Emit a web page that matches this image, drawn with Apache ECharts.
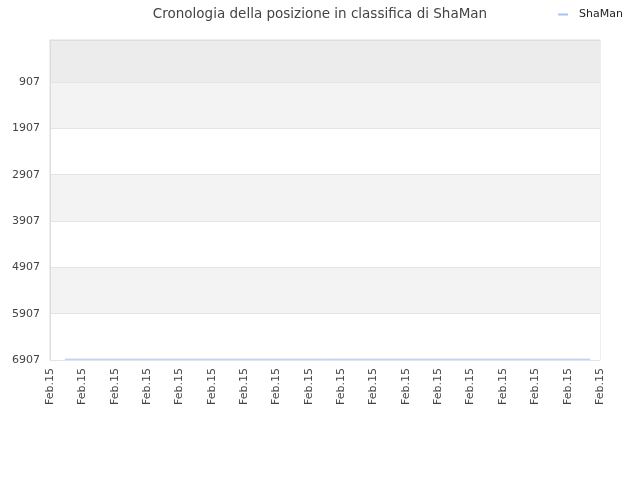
<!DOCTYPE html>
<html>
<head>
<meta charset="utf-8">
<script src="https://cdn.jsdelivr.net/npm/echarts@6/dist/echarts.min.js"></script>
<style>
  html, body { margin: 0; padding: 0; background: #fff; }
  #main { width: 640px; height: 480px; }
</style>
</head>
<body>
<div id="main"></div>
<script>
// dati del grafico
var xLabels = ['Feb.15','Feb.15','Feb.15','Feb.15','Feb.15','Feb.15','Feb.15','Feb.15','Feb.15',
               'Feb.15','Feb.15','Feb.15','Feb.15','Feb.15','Feb.15','Feb.15','Feb.15','Feb.15'];
var days = [0.46, 16.7];           // posizione nel tempo (giorni dall'inizio)
var posizioni = [6890, 6890];      // posizione in classifica
var yTicks = [907, 1907, 2907, 3907, 4907, 5907, 6907];

var myChart = echarts.init(document.getElementById('main'));
var option = {
    animation: false,
    textStyle: { fontFamily: 'DejaVu Sans' },
    title: {
        text: 'Cronologia della posizione in classifica di ShaMan',
        left: 'center',
        top: 2,
        textStyle: { fontSize: 13.5, fontWeight: 'normal', color: '#444' }
    },
    legend: {
        data: ['ShaMan'],
        right: 12,
        top: 4,
        itemWidth: 10,
        itemHeight: 2,
        textStyle: { fontSize: 11, color: '#222', padding: [0, 0, 0, 6] }
    },
    grid: { left: 50, right: 40, top: 40, bottom: 120, show: true, borderColor: '#ddd', borderWidth: 1, backgroundColor: 'transparent' },
    xAxis: {
        type: 'value',
        min: 0,
        max: xLabels.length - 1,
        interval: 1,
        axisLine: { show: true, lineStyle: { color: '#ddd' } },
        axisTick: { show: false },
        splitLine: { show: false },
        axisLabel: {
            rotate: 90,
            fontSize: 11,
            color: '#444',
            margin: 8,
            showMinLabel: true,
            showMaxLabel: true,
            formatter: function (v) { return xLabels[Math.round(v)]; }
        }
    },
    yAxis: {
        type: 'value',
        inverse: true,
        min: 0,
        max: 6907,
        axisLine: { show: true, lineStyle: { color: '#ddd' } },
        axisTick: { show: false, customValues: [0].concat(yTicks) },
        axisLabel: {
            fontSize: 11, color: '#444', margin: 10, customValues: yTicks,
            formatter: function (v) { return String(v); }
        },
        splitLine: { show: true, lineStyle: { color: '#e4e4e4' } },
        splitArea: { show: true, areaStyle: { color: ['#ececec', '#f3f3f3', '#ffffff', '#f3f3f3', '#ffffff', '#f3f3f3', '#ffffff'] } }
    },
    series: [{
        name: 'ShaMan',
        type: 'line',
        data: days.map(function (d, i) { return [d, posizioni[i]]; }),
        symbol: 'none',
        lineStyle: { color: '#9fc5f0', width: 1 },
        itemStyle: { color: '#9fc5f0' }
    }]
};
myChart.setOption(option);
</script>
</body>
</html>
